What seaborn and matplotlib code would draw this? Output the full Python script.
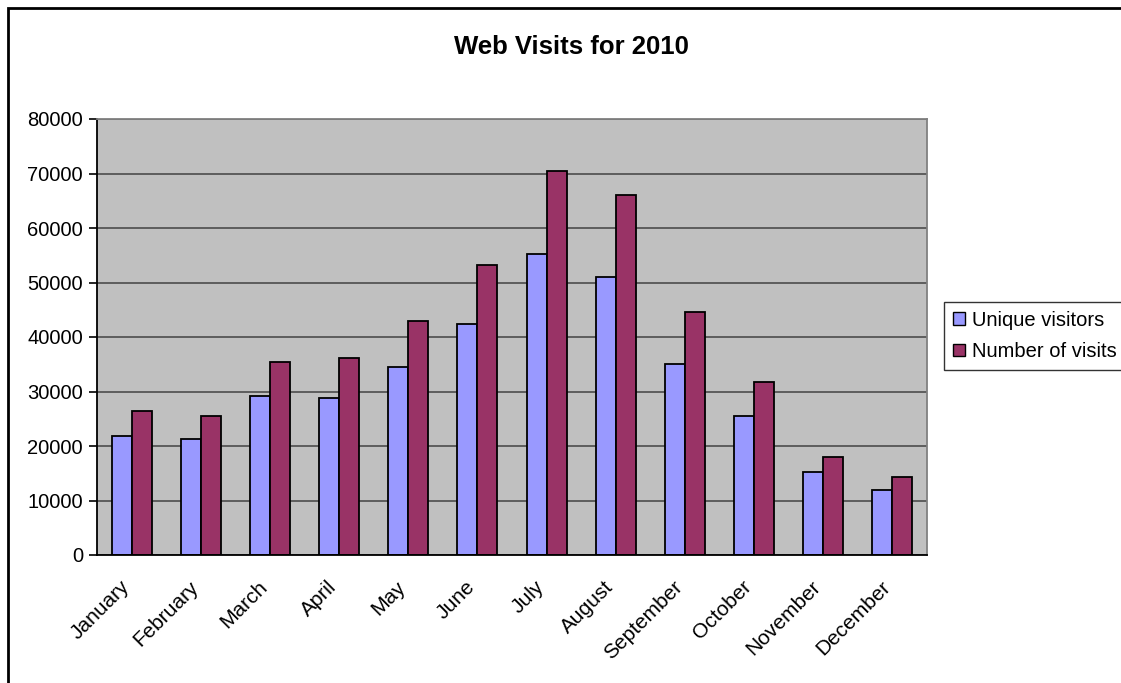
import numpy as np
import pandas as pd
import seaborn as sns
import matplotlib.pyplot as plt
import matplotlib.patches as mpatches
import matplotlib.transforms as mtransforms

months = ["January", "February", "March", "April", "May", "June", "July",
          "August", "September", "October", "November", "December"]
unique_visitors = [21900, 21300, 29200, 28800, 34500, 42400, 55300,
                   51100, 35100, 25500, 15300, 12000]
number_of_visits = [26400, 25500, 35500, 36100, 43000, 53200, 70400,
                    66100, 44500, 31800, 18000, 14400]
series_names = ["Unique visitors", "Number of visits"]
y_ticks = [0, 10000, 20000, 30000, 40000, 50000, 60000, 70000, 80000]

df = pd.DataFrame({
    "month": months * 2,
    "value": unique_visitors + number_of_visits,
    "series": [series_names[0]] * 12 + [series_names[1]] * 12,
})

sns.set_theme(style="white")
plt.rcParams["font.family"] = ["Liberation Sans", "DejaVu Sans"]
plt.rcParams["text.color"] = "black"
plt.rcParams["xtick.color"] = "black"
plt.rcParams["ytick.color"] = "black"

colors = ["#9999FF", "#993366"]

fig = plt.figure(figsize=(11.21, 6.83), dpi=100)
ax = fig.add_axes([97 / 1121, 128 / 683, 830 / 1121, 436 / 683])

sns.barplot(
    data=df, x="month", y="value", hue="series",
    palette=colors, width=0.58, edgecolor="black", linewidth=1.3,
    saturation=1, ax=ax, legend=False,
)

ax.set_facecolor("#C0C0C0")
ax.set_ylim(0, 80000)
ax.set_xlim(-0.5, 11.5)
ax.set_yticks(y_ticks)
ax.set_yticklabels([str(t) for t in y_ticks], fontsize=14.5, color="black")
ax.yaxis.grid(True, color="#555555", linewidth=1.3)
ax.set_axisbelow(True)

ax.set_xticks(range(12))
ax.set_xticks(np.arange(-0.5, 12, 1), minor=True)
ax.tick_params(axis="x", which="major", length=0, pad=16)
ax.tick_params(axis="x", which="minor", length=6, width=1.2, color="black", direction="out")
ax.tick_params(axis="y", length=6, width=1.2, color="black", direction="out", left=True, pad=4)
ax.set_xticklabels(months, rotation=45, ha="right", va="top",
                   rotation_mode="anchor", fontsize=15, color="black")
# nudge the slanted month labels left, like the original
shift = mtransforms.ScaledTranslation(-12 / 100, 0, fig.dpi_scale_trans)
for lbl in ax.get_xticklabels():
    lbl.set_transform(lbl.get_transform() + shift)

ax.set_xlabel("")
ax.set_ylabel("")
for side in ["left", "bottom"]:
    ax.spines[side].set_color("black")
    ax.spines[side].set_linewidth(1.3)
for side in ["top", "right"]:
    ax.spines[side].set_color("#808080")
    ax.spines[side].set_linewidth(1.3)

fig.text(571 / 1121, 1 - 47 / 683, "Web Visits for 2010", ha="center", va="center",
         fontsize=18.5, fontweight="bold", color="black")

handles = [mpatches.Patch(facecolor=c, edgecolor="black", label=n)
           for c, n in zip(colors, series_names)]
fig.legend(handles=handles, loc="center left", bbox_to_anchor=(944 / 1121, 1 - 336 / 683),
           frameon=True, fontsize=14.5, handlelength=0.6, handleheight=0.6,
           handletextpad=0.35, borderpad=0.45, labelspacing=0.6, borderaxespad=0,
           fancybox=False, edgecolor="black")

border = mpatches.Rectangle((8 / 1121, -0.1), 1.2, 1.1 - 8 / 683,
                            transform=fig.transFigure, fill=False,
                            edgecolor="black", linewidth=2)
fig.patches.append(border)

fig.savefig("out.png", dpi=100)
